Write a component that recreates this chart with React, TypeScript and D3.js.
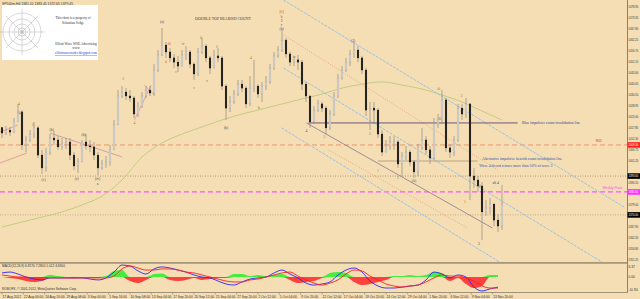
import React from "react";
import * as d3 from "d3";

const W = 640;
const H = 299;

// ---- price data (H4 candles, aggregated) ----
const closes = [1415.3,1416.8,1415.8,1420.9,1425.9,1409.3,1411.8,1414.8,1417.9,1404.2,
1397.7,1405.7,1412.8,1411.8,1408.3,1409.8,1410.8,1404.2,1398.7,1400.7,
1410.8,1408.8,1408.3,1404.2,1397.7,1399.7,1400.7,1406.8,1419.4,1434.0,
1436.0,1434.0,1433.0,1424.9,1428.9,1434.0,1437.0,1435.5,1447.1,1454.7,
1459.7,1456.2,1453.2,1451.1,1449.1,1454.7,1456.2,1450.1,1445.1,1456.2,
1459.2,1453.2,1448.1,1454.2,1453.2,1439.0,1427.9,1431.0,1435.0,1440.0,
1438.0,1430.0,1438.0,1439.0,1435.0,1439.0,1441.1,1448.1,1454.2,1457.2,
1462.2,1455.2,1451.1,1452.2,1451.1,1440.0,1434.0,1420.9,1426.9,1430.0,
1427.9,1417.9,1424.9,1434.0,1443.1,1447.1,1451.1,1455.2,1457.2,1453.2,
1447.1,1426.9,1427.9,1426.9,1414.8,1405.7,1408.8,1410.8,1410.8,1399.7,
1403.7,1405.7,1400.7,1395.7,1407.8,1411.8,1406.8,1402.7,1419.9,1421.9,
1432.0,1407.8,1405.7,1411.8,1427.9,1424.9,1430.0,1393.6,1391.6,1388.6,
1375.5,1377.5,1379.5,1371.4,1368.4,1379.5];
const highs = [1417.9,1418.9,1418.4,1422.9,1430.0,1426.9,1413.8,1416.8,1420.9,1418.9,
1406.8,1407.8,1414.8,1416.3,1413.8,1412.8,1412.8,1412.8,1405.7,1402.7,
1411.8,1414.8,1411.8,1410.8,1405.7,1401.7,1403.7,1409.3,1421.9,1437.0,
1439.0,1438.0,1437.0,1434.0,1431.0,1436.0,1439.0,1439.0,1450.1,1457.2,
1468.3,1461.2,1458.2,1455.2,1454.2,1457.2,1459.2,1457.2,1451.1,1458.2,
1463.3,1460.2,1454.2,1457.2,1458.2,1454.2,1440.0,1434.0,1437.0,1442.1,
1442.1,1439.0,1444.1,1452.2,1440.0,1441.1,1444.1,1450.1,1456.2,1459.2,
1467.3,1463.3,1456.2,1454.2,1454.7,1452.2,1441.1,1434.0,1428.9,1432.0,
1431.0,1428.9,1426.9,1436.0,1445.1,1449.1,1453.2,1457.2,1461.2,1459.2,
1454.2,1448.1,1431.0,1431.0,1427.9,1416.8,1411.8,1413.8,1413.8,1411.8,
1405.7,1408.8,1406.8,1401.7,1409.8,1417.9,1413.8,1408.8,1422.9,1424.9,
1437.0,1433.0,1409.8,1413.8,1430.0,1430.0,1433.0,1430.0,1397.7,1393.6,
1390.6,1381.5,1382.5,1379.5,1374.5,1389.1];
const lows = [1412.8,1414.3,1413.8,1415.3,1420.9,1406.8,1405.7,1410.8,1412.8,1402.7,
1394.6,1395.7,1404.2,1409.3,1406.8,1406.8,1407.3,1401.7,1396.7,1395.1,
1400.7,1406.8,1405.7,1401.7,1394.1,1396.7,1397.7,1398.7,1406.8,1419.4,
1433.0,1432.0,1431.0,1422.9,1423.4,1427.9,1433.0,1434.0,1434.0,1446.1,
1454.2,1453.2,1451.1,1448.1,1446.1,1450.1,1452.2,1448.1,1442.1,1444.1,
1455.2,1451.1,1445.1,1448.1,1451.1,1437.0,1421.9,1425.9,1430.0,1434.0,
1436.0,1427.9,1428.9,1436.0,1433.0,1431.0,1437.0,1440.0,1447.1,1453.2,
1456.2,1453.2,1449.1,1449.1,1447.1,1437.0,1431.0,1417.9,1419.9,1425.9,
1425.9,1414.8,1416.8,1423.9,1433.0,1442.1,1446.1,1449.1,1453.2,1451.1,
1445.1,1423.9,1416.8,1419.9,1412.8,1403.7,1405.7,1406.8,1406.8,1397.7,
1393.6,1401.7,1398.7,1392.6,1393.6,1406.8,1404.7,1399.7,1401.7,1417.9,
1419.9,1405.7,1402.7,1403.7,1410.8,1421.9,1422.9,1381.5,1387.6,1385.6,
1361.3,1373.5,1374.5,1368.4,1365.4,1366.4];
const firstOpen = 1418.0;

// moving average, sampled every 5 candles
const maStep = 5;
const maValues = [1367.9,1370.4,1372.9,1375.5,1379.0,1383.5,1391.6,1403.2,1410.3,1414.8,
1418.4,1421.9,1424.9,1427.4,1430.0,1432.5,1435.0,1438.0,1440.0,1441.1,
1439.5,1437.5,1434.5,1431.0,1426.4,1421.9];

// price axis ticks
const priceTicks = d3.range(24).map((k) => 1478.9 - 5.55 * k);

// time axis labels (every 16 H4 bars = 16/3 candles)
const dateLabels = ["17 Aug 2012","22 Aug 00:00","24 Aug 16:00","29 Aug 08:00","3 Sep 00:00","5 Sep 16:00",
"10 Sep 08:00","13 Sep 04:00","17 Sep 20:00","20 Sep 12:00","25 Sep 04:00","27 Sep 20:00",
"2 Oct 12:00","5 Oct 04:00","9 Oct 20:00","12 Oct 12:00","17 Oct 04:00","19 Oct 20:00",
"24 Oct 12:00","29 Oct 04:00","1 Nov 20:00","6 Nov 12:00","9 Nov 04:00","13 Nov 20:00"];
const dateStep = 16 / 3;

// MACD, sampled every 2 candles
const macdStep = 2;
const macdMain = [2.6,3.2,1.9,0,-1.3,-1.9,-0.6,-0.6,-0.6,-0.6,-0.6,-1.3,-1.9,-0.6,3.2,7.7,7.1,3.9,1.9,5.2,
6.5,5.8,4.5,3.2,1.3,0,-0.6,-2.6,-4.5,-5.2,-3.2,-1.3,-0.6,0,2.6,4.5,1.9,-0.6,-3.9,-5.2,
-4.5,-3.2,1.3,4.5,5.8,3.2,-2.6,-5.8,-7.1,-7.1,-6.5,-5.8,-5.2,-1.9,3.2,1.9,-0.6,1.3,0,-6.5,
-9.0,-7.7,-6.5];
const macdSignal = [1.3,0.6,0,0,-0.6,-0.6,-0.6,-0.6,-0.6,-0.6,-0.6,-0.6,-0.6,-0.6,0.6,5.2,7.1,5.8,4.5,4.5,
5.2,5.2,4.5,3.2,2.6,1.3,0,-1.3,-2.6,-3.2,-3.2,-1.9,-1.3,0,1.3,2.6,3.2,0.6,-1.9,-3.9,
-5.2,-3.9,-1.9,1.9,4.5,3.9,0.6,-1.9,-4.5,-5.8,-6.5,-5.8,-5.2,-3.2,-0.6,1.3,0.6,0.6,-0.6,-2.6,
-5.8,-7.1,-7.1];
const macdHist = [0,-0.6,-1.3,-2.6,-3.2,-2.6,1.3,0.6,-0.3,-0.6,-0.3,-0.6,-0.6,0.6,3.9,4.5,-2.6,-3.9,-1.9,1.9,
2.3,-1.9,-2.6,-1.9,-0.6,-1.9,-1.3,-0.6,-0.6,1.9,1.9,0.6,1.3,0.6,1.3,1.9,-1.9,-3.9,-3.2,-2.6,
-0.6,2.6,3.2,2.6,-3.2,-5.2,-4.5,-3.2,-1.9,0.6,0.6,1.3,0.6,1.3,3.2,2.6,-2.6,-0.6,-4.5,-7.1,
-5.8,1.3,1.3];

// horizontal levels (full width)
const levelPrices = [1409.3, 1393.6, 1385.6, 1374.0];
const levelBoxText = ["1409.30", "1393.60", "1385.60", "1374.00"];

// partial horizontal lines [fromIdx, toIdx, price]
const invalidationLines = [
  [76.6, 128.9, 1420.4],
  [94.0, 118.9, 1401.2],
];

// trend lines [idx1, price1, idx2, price2]
const trendLines = [
  [70.4, 1482.4, 155.5, 1378.0],
  [70.4, 1448.1, 150.0, 1350.2],
  [69.9, 1417.9, 124.4, 1350.2],
  [76.1, 1420.4, 122.6, 1367.4],
  [70.4, 1464.8, 123.9, 1396.7],
  [81.6, 1406.8, 116.4, 1367.4],
  [-0.5, 1415.8, 4.0, 1419.4],
  [-0.5, 1400.2, 6.2, 1405.2],
  [12.0, 1415.3, 30.1, 1403.2],
  [33.1, 1421.9, 37.3, 1439.5],
  [35.6, 1439.5, 38.1, 1434.5],
];

// wave labels
const waveText = ["4","(4)","2","(b)","(c)","(b)","(c)","(iv)","a","3","4","(a)","iii","ii","c","iv","c","b","2","x",
"(b)","4","b","[ii]","b","2","c","(b)","iv","4","5","(2)","3","1","2","(ii)","iii","B","2","1","iii","3","alt 4"];
const waveIdx = [4.2,4.7,7.7,12.4,10.4,20.4,18.7,23.9,23.9,30.3,33.1,40.0,41.8,41.0,43.5,45.3,48.0,49.8,53.7,51.2,
56.0,62.2,64.2,69.9,69.9,69.9,69.9,69.9,73.1,76.1,80.6,87.8,92.0,94.0,99.0,103.0,109.2,109.5,114.9,115.7,119.4,119.2,123.4];
const wavePrice = [1430.0,1425.4,1419.4,1416.8,1391.6,1414.3,1392.1,1392.1,1389.6,1442.6,1420.4,1471.3,1460.2,1451.1,1446.1,1460.2,1438.0,1463.3,1458.7,1441.6,
1417.9,1453.2,1427.9,1476.4,1473.9,1471.8,1469.8,1467.8,1453.7,1416.3,1413.3,1461.7,1414.8,1396.1,1392.6,1391.1,1437.5,1422.4,1434.0,1380.5,1388.6,1359.3,1390.1];
const waveKind = [1,2,1,2,2,2,2,2,3,1,1,4,0,0,1,0,1,1,1,1,
2,1,1,0,0,2,2,4,1,3,1,4,1,1,1,2,1,1,1,1,1,2,3];

const xS = d3.scaleLinear().domain([0, 125]).range([2, 502]);
const yS = d3.scaleLinear().domain([1478.9, 1351.25]).range([7, 260]);
const mS = d3.scaleLinear().domain([-9.03, 9.03]).range([291, 263]);

const AX = 627;
const MAIN_BOTTOM = 262;
const LX = 628.6;
const LW = 9.6;

const waveColors = ["#d83030", "#7a7a3a", "#404040", "#2040c0", "#503090"];
const trendStyles = [
  { c: "#8fc0ea", d: "3,1", w: 0.9 },
  { c: "#8fc0ea", d: "3,1", w: 0.9 },
  { c: "#8fc0ea", d: "3,1", w: 0.9 },
  { c: "#8a7890", d: "", w: 0.8 },
  { c: "#e89a78", d: "1,1.5", w: 0.8 },
  { c: "#e89a78", d: "1,1.5", w: 0.8 },
  { c: "#e090a0", d: "", w: 0.8 },
  { c: "#e090a0", d: "", w: 0.8 },
  { c: "#c890a0", d: "", w: 0.8 },
  { c: "#e090a0", d: "", w: 0.8 },
  { c: "#e090a0", d: "", w: 0.8 },
];
const levelStyles = [
  { c: "#e8906c", d: "5,3", w: 0.9, box: "#ff2020" },
  { c: "#a08060", d: "1,1.5", w: 0.8, box: "#000000" },
  { c: "#ff55ff", d: "5,3", w: 1.1, box: "#ff30ff" },
  { c: "#c0a080", d: "1,1.5", w: 0.8, box: "#000000" },
];

export default function App() {
  const candles = closes.map((c, i) => {
    const o = i === 0 ? firstOpen : closes[i - 1];
    return { i, o, c, h: Math.max(highs[i], o, c), l: Math.min(lows[i], o, c) };
  });

  const maLine = d3
    .line<number>()
    .x((_, k) => xS(k * maStep))
    .y((v) => yS(v))
    .curve(d3.curveMonotoneX)(maValues) as string;

  const mLine = (arr: number[]) =>
    d3
      .line<number>()
      .x((_, j) => xS(j * macdStep))
      .y((v) => mS(v))
      .curve(d3.curveMonotoneX)(arr) as string;

  const histArea = (pos: boolean) =>
    d3
      .area<number>()
      .x((_, j) => xS(j * macdStep))
      .y0(mS(0))
      .y1((v) => mS(pos ? Math.max(v, 0) : Math.min(v, 0)))
      .curve(d3.curveMonotoneX)(macdHist) as string;

  const axisFont = "'Liberation Sans', Arial, sans-serif";
  const serif = "'Liberation Serif', 'Times New Roman', serif";

  const visibleTicks = priceTicks.filter(
    (p) => !levelPrices.some((lp) => Math.abs(yS(lp) - yS(p)) < 5)
  );

  const axisText = (key: string, y: number, t: string, fill: string) => (
    <text
      key={key}
      x={LX}
      y={y}
      dy="0.35em"
      fontFamily={axisFont}
      fontSize={3.1}
      fill={fill}
      textLength={LW}
      lengthAdjust="spacingAndGlyphs"
    >
      {t}
    </text>
  );

  return (
    <svg
      width={W}
      height={H}
      viewBox={`0 0 ${W} ${H}`}
      style={{ position: "absolute", left: 0, top: 0, background: "#f5deb3" }}
    >
      <defs>
        <clipPath id="mainClip">
          <rect x={0} y={0} width={AX} height={MAIN_BOTTOM} />
        </clipPath>
        <clipPath id="macdClip">
          <rect x={0} y={264} width={AX} height={28} />
        </clipPath>
      </defs>
      <rect x={0} y={0} width={W} height={H} fill="#f5deb3" />

      <g clipPath="url(#mainClip)">
        {levelPrices.map((p, k) => (
          <line
            key={"lv" + k}
            x1={0}
            x2={AX}
            y1={yS(p)}
            y2={yS(p)}
            stroke={levelStyles[k].c}
            strokeWidth={levelStyles[k].w}
            strokeDasharray={levelStyles[k].d}
          />
        ))}
        <path d={maLine} fill="none" stroke="#bccb7c" strokeWidth={0.9} />
        {trendLines.map((t, k) => (
          <line
            key={"tl" + k}
            x1={xS(t[0])}
            y1={yS(t[1])}
            x2={xS(t[2])}
            y2={yS(t[3])}
            stroke={trendStyles[k].c}
            strokeWidth={trendStyles[k].w}
            strokeDasharray={trendStyles[k].d}
          />
        ))}
        {invalidationLines.map((t, k) => (
          <line
            key={"inv" + k}
            x1={xS(t[0])}
            x2={xS(t[1])}
            y1={yS(t[2])}
            y2={yS(t[2])}
            stroke={k === 0 ? "#6e5878" : "#a89478"}
            strokeWidth={k === 0 ? 1 : 0.8}
          />
        ))}
        {candles.map((d) => {
          const x = xS(d.i);
          const up = d.c >= d.o;
          const top = yS(Math.max(d.o, d.c));
          const bot = yS(Math.min(d.o, d.c));
          return (
            <g key={"c" + d.i}>
              <line x1={x} x2={x} y1={yS(d.h)} y2={yS(d.l)} stroke="#8c8c8c" strokeWidth={0.7} />
              <rect
                x={x - 0.85}
                y={top}
                width={1.7}
                height={Math.max(0.8, bot - top)}
                fill={up ? "#e6e6e6" : "#141414"}
                stroke={up ? "#9a9a9a" : "#141414"}
                strokeWidth={0.35}
              />
            </g>
          );
        })}
        {waveText.map((t, k) => (
          <text
            key={"wl" + k}
            x={xS(waveIdx[k])}
            y={yS(wavePrice[k])}
            dy="0.35em"
            textAnchor="middle"
            fontFamily={serif}
            fontSize={3.6}
            fill={waveColors[waveKind[k]]}
          >
            {t}
          </text>
        ))}
        <text x={223} y={19} dy="0.35em" textAnchor="middle" fontFamily={serif} fontSize={3.9} fill="#404040">
          DOUBLE TOP BEARISH COUNT
        </text>
        <text x={xS(130)} y={yS(1420.4)} dy="0.2em" fontFamily={serif} fontSize={3.8} fill="#3040a0">
          Blue impulsive count invalidation line
        </text>
        <text x={xS(120)} y={yS(1401.9)} dy="0.2em" fontFamily={serif} fontSize={3.8} fill="#3050b0">
          Alternative impulsive bearish count invalidation line
        </text>
        <text x={xS(119.3)} y={yS(1398.8)} dy="0.2em" fontFamily={serif} fontSize={3.8} fill="#3050b0">
          Wave 4 do not retrace more than 50% of wave 3
        </text>
        <text x={602} y={yS(levelPrices[0]) - 3} textAnchor="end" fontFamily={axisFont} fontSize={3.4} fill="#e03030">
          R01
        </text>
        <text x={622} y={yS(levelPrices[2]) - 3} textAnchor="end" fontFamily={axisFont} fontSize={3.4} fill="#ff40ff">
          Weekly Pivot
        </text>

        <rect x={2} y={5} width={96} height={55} fill="#ffffff" />
        <g stroke="#b0b0b0" strokeWidth={0.5} fill="none">
          {[19, 13, 8, 4, 1.5].map((r) => (
            <circle key={"lg" + r} cx={22} cy={32} r={r} />
          ))}
          {d3.range(8).map((k) => (
            <line
              key={"sp" + k}
              x1={22}
              y1={32}
              x2={22 + 23 * Math.cos((k * Math.PI) / 4)}
              y2={32 + 23 * Math.sin((k * Math.PI) / 4)}
            />
          ))}
        </g>
        <text x={73} y={19} textAnchor="middle" fontFamily={serif} fontSize={3.4} fill="#303030">
          This chart is a property of
        </text>
        <text x={73} y={23.5} textAnchor="middle" fontFamily={serif} fontSize={3.4} fill="#303030">
          Sebastian Sedge
        </text>
        <text x={76} y={45} textAnchor="middle" fontFamily={serif} fontSize={3.4} fill="#303030">
          Elliott Wave WSE Advertising
        </text>
        <text x={76} y={49} textAnchor="middle" fontFamily={serif} fontSize={3.4} fill="#303030">
          www
        </text>
        <text x={76} y={54} textAnchor="middle" fontFamily={serif} fontSize={3.4} fill="#2040e0" textDecoration="underline">
          elliottwavetrader.blogspot.com
        </text>
      </g>

      <text x={2} y={4.5} fontFamily={axisFont} fontSize={3.4} fill="#303030">
        SP500m,H4  1381.10 1383.45 1372.65 1379.45
      </text>

      <rect x={0} y={MAIN_BOTTOM} width={AX + 1} height={1.8} fill="#a8987c" />
      <line x1={AX + 0.5} x2={AX + 0.5} y1={0} y2={292} stroke="#8c806c" strokeWidth={1} />
      <line x1={0} x2={AX + 1} y1={292.5} y2={292.5} stroke="#8c806c" strokeWidth={0.8} />

      {visibleTicks.map((p, k) => (
        <g key={"pt" + k}>
          <line x1={AX} x2={AX + 1.5} y1={yS(p)} y2={yS(p)} stroke="#8c806c" strokeWidth={0.6} />
          {axisText("ptt" + k, yS(p), p.toFixed(2), "#303030")}
        </g>
      ))}
      {levelPrices.map((p, k) => (
        <g key={"bx" + k}>
          <rect x={AX + 0.5} y={yS(p) - 2.8} width={13} height={5.6} fill={levelStyles[k].box} />
          {axisText("bxt" + k, yS(p), levelBoxText[k], "#ffffff")}
        </g>
      ))}

      <g clipPath="url(#macdClip)">
        <path d={histArea(true)} fill="#33ee33" opacity={0.9} />
        <path d={histArea(false)} fill="#ff3030" opacity={0.9} />
        <path d={mLine(macdMain)} fill="none" stroke="#2a2aff" strokeWidth={0.9} />
        <path d={mLine(macdSignal)} fill="none" stroke="#ff2020" strokeWidth={0.9} />
      </g>
      <text x={2} y={267} fontFamily={axisFont} fontSize={3.2} fill="#303030">
        MACD(12,26,9) 6.8170 7.2800 1.012 4.6300
      </text>
      <text x={2} y={290} fontFamily={axisFont} fontSize={3.2} fill="#303030">
        ROBOFX, © 2001-2012, MetaQuotes Software Corp.
      </text>
      <text x={LX} y={mS(6.37)} dy="0.35em" fontFamily={axisFont} fontSize={3.2} fill="#303030">
        6.37
      </text>
      <text x={LX} y={mS(0)} dy="0.35em" fontFamily={axisFont} fontSize={3.2} fill="#303030">
        0.00
      </text>
      {axisText("mlow", 289.5, "-10.761", "#303030")}

      {dateLabels.map((t, k) => {
        const x = xS(k * dateStep);
        return (
          <g key={"dl" + k}>
            <line x1={x} x2={x} y1={292.5} y2={294.5} stroke="#8c806c" strokeWidth={0.6} />
            <text x={x + 0.5} y={297.5} fontFamily={axisFont} fontSize={3.3} fill="#303030">
              {t}
            </text>
          </g>
        );
      })}
    </svg>
  );
}
